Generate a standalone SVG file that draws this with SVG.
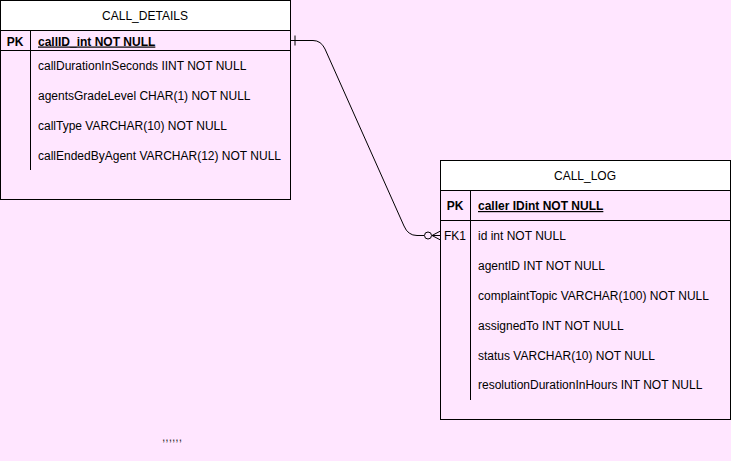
<svg xmlns="http://www.w3.org/2000/svg" width="731" height="461" viewBox="0 0 731 461">
<style>
text{font-family:"Liberation Sans",Arial,sans-serif;font-size:12px;fill:#000;}
.hdr{fill:#fff;stroke:#000;stroke-width:1;}
.box{fill:none;stroke:#000;stroke-width:1;}
.ln{stroke:#000;stroke-width:1;fill:none;}
.c{text-anchor:middle;}
.b{font-weight:bold;}
.u{text-decoration:underline;}
</style>
<rect x="0" y="0" width="731" height="461" fill="#FFE6FF"/>
<g id="call_details">
<rect class="hdr" x="0.5" y="0.5" width="290" height="30"/>
<rect class="box" x="0.5" y="0.5" width="290" height="199"/>
<line class="ln" x1="0.5" y1="50.5" x2="290.5" y2="50.5"/>
<line class="ln" x1="30.5" y1="30.5" x2="30.5" y2="170"/>
<text class="c" x="145" y="20">CALL_DETAILS</text>
<text class="c b" x="15" y="45.5">PK</text>
<text class="b u" x="38" y="45.5">callID_int NOT NULL</text>
<text x="38" y="70">callDurationInSeconds IINT NOT NULL</text>
<text x="38" y="100">agentsGradeLevel CHAR(1) NOT NULL</text>
<text x="38" y="130">callType VARCHAR(10) NOT NULL</text>
<text x="38" y="160">callEndedByAgent VARCHAR(12) NOT NULL</text>
</g>
<g id="call_log">
<rect class="hdr" x="440.5" y="160.5" width="290" height="30"/>
<rect class="box" x="440.5" y="160.5" width="290" height="259"/>
<line class="ln" x1="440.5" y1="220.5" x2="730.5" y2="220.5"/>
<line class="ln" x1="470.5" y1="190.5" x2="470.5" y2="400"/>
<text class="c" x="585" y="180">CALL_LOG</text>
<text class="c b" x="455" y="210">PK</text>
<text class="b u" x="478" y="210">caller IDint NOT NULL</text>
<text class="c" x="455" y="240">FK1</text>
<text x="478" y="240">id int NOT NULL</text>
<text x="478" y="270">agentID INT NOT NULL</text>
<text x="478" y="300">complaintTopic VARCHAR(100) NOT NULL</text>
<text x="478" y="330">assignedTo INT NOT NULL</text>
<text x="478" y="360">status VARCHAR(10) NOT NULL</text>
<text x="478" y="389">resolutionDurationInHours INT NOT NULL</text>
</g>
<g id="connectors">
<path class="ln" d="M290.5,40.5 L313,40.5 Q321,40.5 325,49 L404,226 Q408,235.5 417,235.5 L424,235.5"/>
<line class="ln" x1="295" y1="35.5" x2="295" y2="45.5"/>
<circle cx="428" cy="235.5" r="3.5" fill="#FFE6FF" stroke="#000" stroke-width="1"/>
<path class="ln" d="M440.5,231 L432,235.5 L440.5,240 M432,235.5 L440.5,235.5"/>
</g>
<text x="162" y="441" style="font-size:12px;fill:#333">,,,,,,</text>
</svg>
